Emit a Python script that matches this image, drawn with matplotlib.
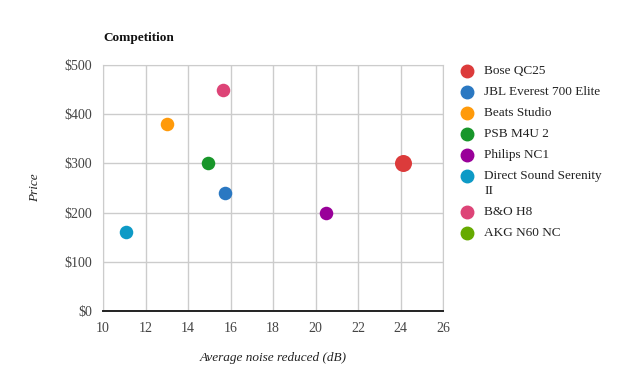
import matplotlib.pyplot as plt
from matplotlib.lines import Line2D

names = ['Bose QC25', 'JBL Everest 700 Elite', 'Beats Studio', 'PSB M4U 2',
         'Philips NC1', 'Direct Sound Serenity\nII', 'B&O H8', 'AKG N60 NC']
noise_db = [24.1, 15.75, 13.0, 14.95, 20.5, 11.1, 15.65, 24.1]
price = [300, 240, 380, 300, 200, 160, 450, 300]
colors = ['#dc3b3b', '#2a78c2', '#ff9a0a', '#18962a', '#990099', '#0d9ac6', '#dd4477', '#66aa00']
x_ticks = [10, 12, 14, 16, 18, 20, 22, 24, 26]
y_ticks = [0, 100, 200, 300, 400, 500]

plt.rcParams['font.family'] = ['Liberation Serif', 'DejaVu Serif']

fig = plt.figure(figsize=(6.27, 3.76), dpi=100)
W, H = 627, 376
ax = fig.add_axes([103 / W, 1 - 311 / H, 340 / W, 246 / H])

# AKG sits under Bose at the same spot; draw it first so Bose covers it
order = [7, 1, 2, 3, 4, 5, 6, 0]
for i in order:
    size = 150 if i == 0 else 95
    ax.scatter(noise_db[i], price[i], s=size, color=colors[i], zorder=3, linewidths=0)

ax.set_xlim(10, 26)
ax.set_ylim(0, 500)
ax.set_xticks(x_ticks)
ax.set_yticks(y_ticks)
ax.set_yticklabels(['$' + str(v) for v in y_ticks])
ax.grid(True, color='#cccccc', lw=1)
ax.set_axisbelow(True)
for s in ['left', 'right', 'top']:
    ax.spines[s].set_color('#cccccc')
ax.spines['bottom'].set_color('#222222')
ax.spines['bottom'].set_linewidth(1.4)
ax.tick_params(length=0, labelsize=10, labelcolor='#444444', pad=8)

fig.text(273 / W, 1 - 358 / H, 'Average noise reduced (dB)', fontsize=9.5, style='italic',
         color='#222222', ha='center', va='center')
fig.text(35 / W, 1 - 188 / H, 'Price', fontsize=9.5, style='italic', color='#222222',
         ha='center', va='center', rotation=90)
fig.text(103 / W, 1 - 38 / H, 'Competition', fontsize=9.5, fontweight='bold', va='center', color='#111111')

# legend drawn by hand so the wrapped label keeps its dot on the first line
ly = 71
for i, name in enumerate(names):
    fig.add_artist(Line2D([467 / W], [1 - ly / H], marker='o', markersize=9, color=colors[i],
                          linestyle='none', transform=fig.transFigure))
    for line in name.split('\n'):
        fig.text(484 / W, 1 - ly / H, line, fontsize=9.5, va='center', color='#222222')
        ly += 15
    ly += 6

fig.savefig('out.png', dpi=100)
